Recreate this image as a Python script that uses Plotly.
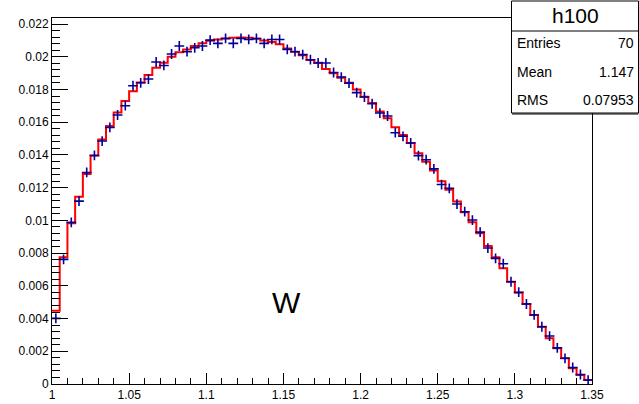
import numpy as np
import plotly.graph_objects as go

# ---- data ----
x_min = 1.0
x_max = 1.35
n_bins = 70
bin_edges = np.linspace(x_min, x_max, n_bins + 1)
bin_centers = 0.5 * (bin_edges[:-1] + bin_edges[1:])

# red histogram (model)
model_vals = [
    0.00448, 0.00774, 0.00982, 0.01145, 0.01283, 0.01397, 0.01495, 0.01577, 0.01660, 0.01729,
    0.01790, 0.01843, 0.01888, 0.01933, 0.01964, 0.02000, 0.02027, 0.02045, 0.02066, 0.02082,
    0.02098, 0.02106, 0.02112, 0.02116, 0.02118, 0.02116, 0.02110, 0.02100, 0.02090, 0.02077,
    0.02051, 0.02031, 0.02010, 0.01980, 0.01964, 0.01925, 0.01899, 0.01872, 0.01841, 0.01800,
    0.01755, 0.01717, 0.01666, 0.01624, 0.01569, 0.01522, 0.01473, 0.01410, 0.01359, 0.01305,
    0.01239, 0.01188, 0.01116, 0.01050, 0.00989, 0.00921, 0.00844, 0.00774, 0.00707, 0.00625,
    0.00558, 0.00489, 0.00422, 0.00350, 0.00279, 0.00218, 0.00157, 0.00096, 0.00055, 0.00024,
]

# blue crosses (data)
data_vals = [
    0.00401, 0.00762, 0.00988, 0.01118, 0.01293, 0.01397, 0.01485, 0.01568, 0.01644, 0.01701,
    0.01823, 0.01841, 0.01864, 0.01968, 0.01947, 0.02017, 0.02066, 0.02031, 0.02055, 0.02066,
    0.02102, 0.02082, 0.02112, 0.02082, 0.02112, 0.02106, 0.02112, 0.02082, 0.02106, 0.02106,
    0.02045, 0.02031, 0.02013, 0.01982, 0.01962, 0.01962, 0.01904, 0.01876, 0.01839, 0.01781,
    0.01754, 0.01713, 0.01656, 0.01638, 0.01536, 0.01514, 0.01473, 0.01396, 0.01371, 0.01315,
    0.01219, 0.01196, 0.01100, 0.01053, 0.01002, 0.00928, 0.00831, 0.00768, 0.00735, 0.00625,
    0.00561, 0.00489, 0.00422, 0.00350, 0.00293, 0.00221, 0.00157, 0.00101, 0.00058, 0.00024,
]

x_tickvals = [1.0, 1.05, 1.1, 1.15, 1.2, 1.25, 1.3, 1.35]
x_ticktext = ["1", "1.05", "1.1", "1.15", "1.2", "1.25", "1.3", "1.35"]
y_tickvals = [0, 0.002, 0.004, 0.006, 0.008, 0.01, 0.012, 0.014, 0.016, 0.018, 0.02, 0.022]
y_ticktext = ["0", "0.002", "0.004", "0.006", "0.008", "0.01", "0.012", "0.014",
              "0.016", "0.018", "0.02", "0.022"]
y_max = 0.02237

stats_title = "h100"
stats_labels = ["Entries", "Mean", "RMS"]
stats_values = ["70", "1.147", "0.07953"]
label_text = "W"
label_pos = (1.152, 0.0050)

# ---- figure ----
W, H = 639, 404
ML, MR, MT, MB = 52, 47, 18, 20
PW, PH = W - ML - MR, H - MT - MB

def px(x):
    return (x - ML) / PW

def py(y):
    return (H - MB - y) / PH

step_x = list(bin_edges[:-1]) + [bin_edges[-1]]
step_y = list(model_vals) + [model_vals[-1]]

fig = go.Figure()
fig.add_trace(go.Scatter(
    x=step_x, y=step_y, mode="lines", line_shape="hv",
    line=dict(color="#ff0000", width=2), hoverinfo="skip", showlegend=False,
))
fig.add_trace(go.Scatter(
    x=bin_centers, y=data_vals, mode="markers",
    marker=dict(symbol="cross-thin", size=7, line=dict(color="#000099", width=1.6), color="#000099"),
    showlegend=False,
))

axis_font = dict(family="Liberation Sans, Arial, sans-serif", size=12, color="black")
fig.update_xaxes(
    range=[x_min, x_max], showgrid=False, zeroline=False, automargin=False,
    showline=True, linecolor="black", linewidth=1, mirror=True,
    ticks="inside", ticklen=11, tickcolor="black", tickwidth=1,
    tickmode="array", tickvals=x_tickvals, ticktext=x_ticktext, tickfont=axis_font,
    minor=dict(tickmode="linear", tick0=1.0, dtick=0.01, ticks="inside", ticklen=6,
               tickcolor="black", tickwidth=1, showgrid=False),
)
fig.update_yaxes(
    range=[0, y_max], showgrid=False, zeroline=False, automargin=False,
    showline=True, linecolor="black", linewidth=1, mirror=True,
    ticks="inside", ticklen=16, tickcolor="black", tickwidth=1,
    tickmode="array", tickvals=y_tickvals, ticktext=y_ticktext, tickfont=axis_font,
    minor=dict(tickmode="linear", tick0=0, dtick=0.0004, ticks="inside", ticklen=8,
               tickcolor="black", tickwidth=1, showgrid=False),
)

shapes = [
    dict(type="rect", xref="paper", yref="paper", x0=px(511.5), x1=px(638.5),
         y0=py(113), y1=py(1), line=dict(color="black", width=1), fillcolor="white", layer="above"),
    dict(type="line", xref="paper", yref="paper", x0=px(511.5), x1=px(638.5),
         y0=py(31), y1=py(31), line=dict(color="black", width=1)),
    dict(type="line", xref="paper", yref="paper", x0=px(512), x1=px(638.5),
         y0=py(114), y1=py(114), line=dict(color="black", width=1)),
]

stat_font = dict(family="Liberation Sans, Arial, sans-serif", size=14, color="black")
annotations = [
    dict(text=stats_title, xref="paper", yref="paper", x=px(575), y=py(16),
         xanchor="center", yanchor="middle", showarrow=False,
         font=dict(family="Liberation Sans, Arial, sans-serif", size=21, color="black")),
    dict(text=label_text, x=label_pos[0], y=label_pos[1], xref="x", yref="y",
         xanchor="center", yanchor="middle", showarrow=False,
         font=dict(family="Liberation Sans, Arial, sans-serif", size=30, color="black")),
]
row_y = [43, 72, 100]
for lab, val, yy in zip(stats_labels, stats_values, row_y):
    annotations.append(dict(text=lab, xref="paper", yref="paper", x=px(515), y=py(yy),
                            xanchor="left", yanchor="middle", showarrow=False, font=stat_font))
    annotations.append(dict(text=val, xref="paper", yref="paper", x=px(636), y=py(yy),
                            xanchor="right", yanchor="middle", showarrow=False, font=stat_font))

fig.update_layout(
    width=W, height=H, margin=dict(l=ML, r=MR, t=MT, b=MB, pad=0, autoexpand=False),
    paper_bgcolor="white", plot_bgcolor="white",
    shapes=shapes, annotations=annotations, showlegend=False,
)

fig.write_html("out.html", config={"displayModeBar": False},
               post_script="document.body.style.margin='0';document.body.style.overflow='hidden';")
